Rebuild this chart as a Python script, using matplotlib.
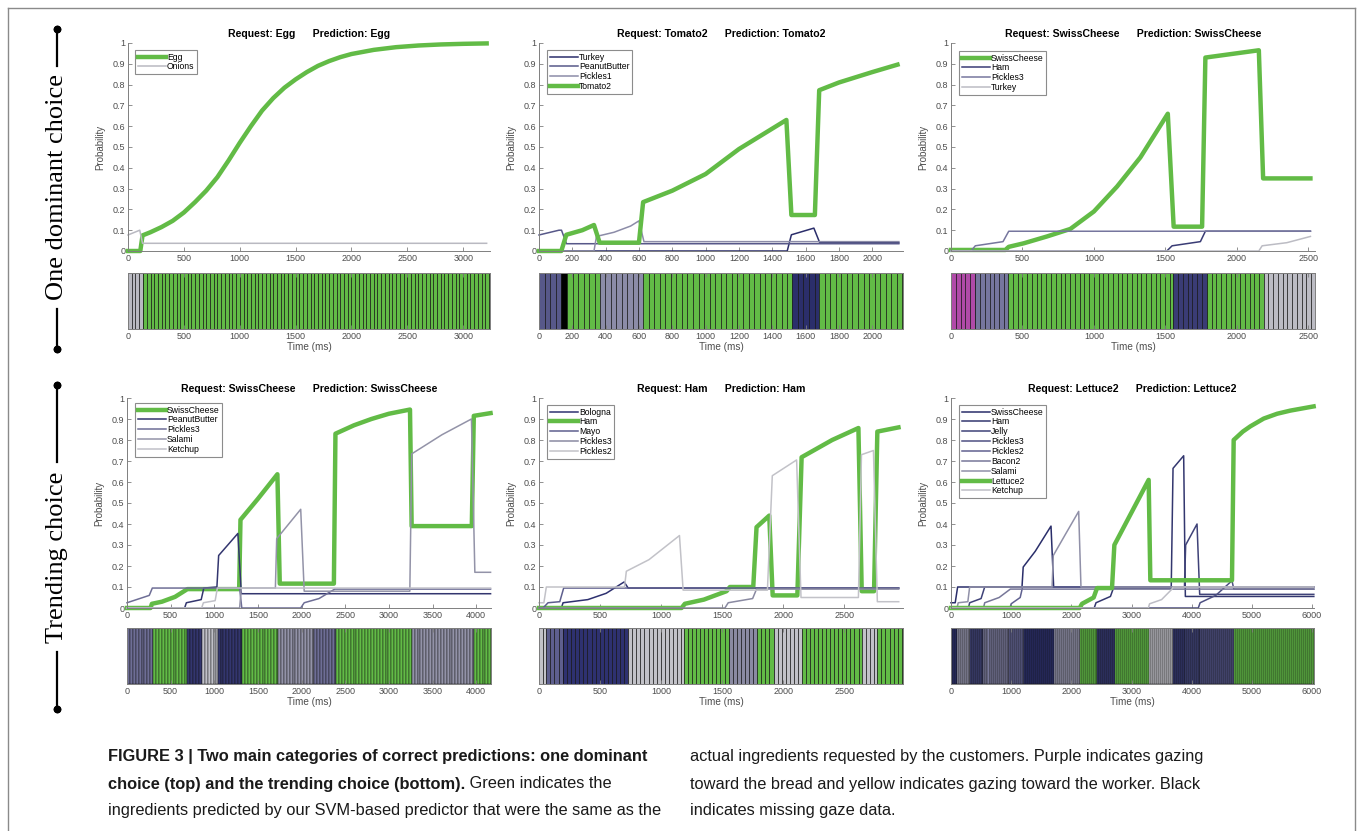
import numpy as np
import matplotlib
matplotlib.use("Agg")
import matplotlib.pyplot as plt
from matplotlib.lines import Line2D

W, H = 1358, 831
GREEN = "#62bb46"

# ---------------- data (time in ms, probability) ----------------
YTICKS = [0, 0.1, 0.2, 0.3, 0.4, 0.5, 0.6, 0.7, 0.8, 0.9, 1]
YTICK_LABELS = ["0", "0.1", "0.2", "0.3", "0.4", "0.5", "0.6", "0.7", "0.8", "0.9", "1"]
GAZE_DT = 33.3  # one gaze sample

# panel 1: Egg
P1_EGG = [(0, 0), (110, 0), (130, 0.075), (200, 0.09), (300, 0.115), (400, 0.145), (500, 0.185),
          (600, 0.235), (700, 0.29), (800, 0.355), (900, 0.435), (1000, 0.52), (1100, 0.60),
          (1200, 0.675), (1300, 0.735), (1400, 0.785), (1500, 0.825), (1600, 0.86), (1700, 0.89),
          (1800, 0.913), (1900, 0.932), (2000, 0.947), (2200, 0.967), (2400, 0.98), (2600, 0.988),
          (2800, 0.993), (3000, 0.996), (3210, 0.998)]
P1_ONIONS = [(0, 0.077), (105, 0.10), (130, 0.037), (3210, 0.037)]
P1_GAZE = [(0, 135, "Onions"), (135, 3240, "Egg")]
P1_XTICKS = [0, 500, 1000, 1500, 2000, 2500, 3000]

# panel 2: Tomato2
P2_TURKEY = [(0, 0), (1490, 0), (1515, 0.078), (1650, 0.11), (1685, 0.04), (2160, 0.04)]
P2_PEANUT = [(0, 0.077), (120, 0.10), (135, 0.10), (165, 0.035), (2160, 0.035)]
P2_PICKLES1 = [(0, 0), (330, 0), (345, 0.07), (450, 0.09), (550, 0.12), (600, 0.145),
               (630, 0.045), (2160, 0.045)]
P2_TOMATO2 = [(0, 0), (134, 0), (164, 0.078), (260, 0.10), (330, 0.125), (364, 0.04), (600, 0.04),
              (625, 0.235), (800, 0.29), (1000, 0.37), (1200, 0.49), (1485, 0.63), (1515, 0.173),
              (1656, 0.173), (1682, 0.773), (1800, 0.81), (2000, 0.86), (2152, 0.896)]
P2_GAZE = [(0, 134, "PeanutButter"), (134, 168, "missing"), (168, 364, "Tomato2"),
           (364, 625, "Pickles1"), (625, 1521, "Tomato2"), (1521, 1682, "Turkey"),
           (1682, 2182, "Tomato2")]
P2_XTICKS = [0, 200, 400, 600, 800, 1000, 1200, 1400, 1600, 1800, 2000]

# panel 3: SwissCheese (dominant)
P3_SWISS = [(0, 0.005), (380, 0.005), (404, 0.02), (509, 0.037), (672, 0.07), (835, 0.106),
            (1000, 0.19), (1162, 0.31), (1325, 0.45), (1517, 0.66), (1558, 0.117), (1757, 0.117),
            (1780, 0.93), (2154, 0.965), (2184, 0.349), (2515, 0.349)]
P3_HAM = [(0, 0), (1510, 0), (1547, 0.025), (1745, 0.045), (1780, 0.095), (2515, 0.095)]
P3_PICKLES3 = [(0, 0), (140, 0), (170, 0.025), (364, 0.045), (404, 0.095), (2515, 0.095)]
P3_TURKEY = [(0, 0), (2154, 0), (2177, 0.025), (2350, 0.04), (2515, 0.07)]
P3_GAZE = [(0, 170, "bread"), (170, 400, "Pickles3"), (400, 1556, "SwissCheese"),
           (1556, 1790, "Ham"), (1790, 2187, "SwissCheese"), (2187, 2550, "Turkey")]
P3_XTICKS = [0, 500, 1000, 1500, 2000, 2500]

# panel 4: SwissCheese (trending)
P4_SWISS = [(0, 0), (270, 0), (285, 0.02), (400, 0.03), (550, 0.053), (692, 0.09), (1285, 0.09),
            (1300, 0.42), (1500, 0.52), (1723, 0.637), (1750, 0.116), (2370, 0.116), (2388, 0.83),
            (2600, 0.87), (2800, 0.9), (3000, 0.925), (3242, 0.945), (3261, 0.39), (3950, 0.39),
            (3973, 0.915), (4165, 0.928)]
P4_PEANUT = [(0, 0), (660, 0), (680, 0.025), (850, 0.04), (880, 0.095), (1030, 0.10),
             (1050, 0.25), (1270, 0.355), (1310, 0.068), (4165, 0.068)]
P4_PICKLES3 = [(0, 0.025), (255, 0.06), (290, 0.095), (1290, 0.095), (1315, 0), (1990, 0),
               (2030, 0.025), (2200, 0.045), (2380, 0.09), (4165, 0.09)]
P4_SALAMI = [(0, 0), (1290, 0), (1310, 0.095), (1700, 0.095), (1715, 0.33), (1990, 0.47),
             (2030, 0.08), (3240, 0.08), (3262, 0.734), (3608, 0.825), (3946, 0.90), (3985, 0.17),
             (4165, 0.17)]
P4_KETCHUP = [(0, 0), (855, 0), (875, 0.025), (1010, 0.035), (1035, 0.095), (4165, 0.095)]
P4_GAZE = [(0, 300, "Pickles3"), (300, 692, "SwissCheese"), (692, 858, "PeanutButter"),
           (858, 1038, "Ketchup"), (1038, 1320, "PeanutButter"), (1320, 1730, "SwissCheese"),
           (1730, 2146, "Salami"), (2146, 2396, "Pickles3"), (2396, 3262, "SwissCheese"),
           (3262, 3973, "Salami"), (3973, 4190, "SwissCheese")]
P4_XTICKS = [0, 500, 1000, 1500, 2000, 2500, 3000, 3500, 4000]

# panel 5: Ham
P5_BOLOGNA = [(0, 0), (183, 0), (197, 0.025), (400, 0.04), (550, 0.07), (697, 0.124),
              (730, 0.095), (2945, 0.095)]
P5_HAM = [(0, 0), (1167, 0), (1194, 0.02), (1350, 0.04), (1535, 0.08), (1563, 0.1), (1754, 0.1),
          (1781, 0.385), (1885, 0.44), (1913, 0.06), (2115, 0.06), (2150, 0.718), (2400, 0.8),
          (2615, 0.857), (2642, 0.08), (2743, 0.08), (2770, 0.84), (2943, 0.86)]
P5_MAYO = [(0, 0), (33, 0), (74, 0.025), (170, 0.03), (202, 0.095), (2945, 0.095)]
P5_PICKLES3 = [(0, 0), (1522, 0), (1549, 0.025), (1749, 0.045), (1781, 0.09), (2945, 0.09)]
P5_PICKLES2 = [(0, 0.025), (40, 0.025), (60, 0.1), (700, 0.1), (715, 0.175), (900, 0.23),
               (1150, 0.345), (1180, 0.085), (1870, 0.085), (1910, 0.63), (2109, 0.705),
               (2145, 0.05), (2615, 0.05), (2640, 0.73), (2738, 0.75), (2770, 0.03), (2945, 0.03)]
P5_GAZE = [(0, 60, "Pickles2"), (60, 197, "Mayo"), (197, 730, "Bologna"), (730, 1186, "Pickles2"),
           (1186, 1555, "Ham"), (1555, 1787, "Pickles3"), (1787, 1923, "Ham"),
           (1923, 2150, "Pickles2"), (2150, 2642, "Ham"), (2642, 2770, "Pickles2"),
           (2770, 2980, "Ham")]
P5_XTICKS = [0, 500, 1000, 1500, 2000, 2500]

# panel 6: Lettuce2
P6_SWISS = [(0, 0.025), (70, 0.025), (110, 0.1), (1180, 0.1), (1200, 0.195), (1400, 0.27),
            (1662, 0.39), (1706, 0.1), (6030, 0.1)]
P6_HAM = [(0, 0), (2380, 0), (2410, 0.025), (2650, 0.055), (2700, 0.095), (3660, 0.095),
          (3690, 0.665), (3867, 0.725), (3895, 0.055), (6030, 0.055)]
P6_JELLY = [(0, 0), (290, 0), (310, 0.025), (500, 0.045), (560, 0.1), (3880, 0.1), (3900, 0.3),
            (4089, 0.4), (4133, 0.065), (6030, 0.065)]
P6_PICKLES3 = [(0, 0), (4110, 0), (4140, 0.025), (4400, 0.06), (4670, 0.13), (4700, 0.09),
               (6030, 0.09)]
P6_PICKLES2 = [(0, 0), (980, 0), (1000, 0.02), (1150, 0.05), (1190, 0.1), (6030, 0.1)]
P6_BACON2 = [(0, 0), (540, 0), (560, 0.025), (800, 0.05), (986, 0.09), (6030, 0.09)]
P6_SALAMI = [(0, 0), (100, 0), (120, 0.025), (280, 0.03), (310, 0.1), (1680, 0.1), (1700, 0.25),
             (1900, 0.35), (2122, 0.46), (2160, 0.1), (6030, 0.1)]
P6_LETTUCE2 = [(0, 0), (2139, 0), (2177, 0.02), (2371, 0.05), (2427, 0.095), (2676, 0.095),
               (2715, 0.3), (3285, 0.61), (3313, 0.132), (4670, 0.132), (4698, 0.80), (4850, 0.84),
               (4975, 0.865), (5197, 0.902), (5420, 0.925), (5640, 0.94), (6027, 0.96)]
P6_KETCHUP = [(0, 0), (3280, 0), (3300, 0.02), (3500, 0.04), (3673, 0.09), (3690, 0.1), (6030, 0.1)]
P6_GAZE = [(0, 100, "SwissCheese"), (100, 320, "Salami"), (320, 540, "Jelly"), (540, 960, "Bacon2"),
           (960, 1210, "Pickles2"), (1210, 1706, "SwissCheese"), (1706, 2150, "Salami"),
           (2150, 2427, "Lettuce2"), (2427, 2720, "Ham"), (2720, 3285, "Lettuce2"),
           (3285, 3690, "Ketchup"), (3690, 3895, "Ham"), (3895, 4144, "Jelly"),
           (4144, 4698, "Pickles3"), (4698, 6040, "Lettuce2")]
P6_XTICKS = [0, 1000, 2000, 3000, 4000, 5000, 6000]

CAPTION_LEFT = [
    ("FIGURE 3 | Two main categories of correct predictions: one dominant", ""),
    ("choice (top) and the trending choice (bottom).", " Green indicates the"),
    ("", "ingredients predicted by our SVM-based predictor that were the same as the"),
]
CAPTION_RIGHT = [
    "actual ingredients requested by the customers. Purple indicates gazing",
    "toward the bread and yellow indicates gazing toward the worker. Black",
    "indicates missing gaze data.",
]

# ---------------- styles ----------------
SPECIAL = {"missing": "#000000", "bread": "#b04aa8"}
C1 = {"Egg": GREEN, "Onions": "#b9b9c1"}
C2 = {"Turkey": "#2b2e6b", "PeanutButter": "#575889", "Pickles1": "#8c8ca8", "Tomato2": GREEN}
C3 = {"SwissCheese": GREEN, "Ham": "#3a3c75", "Pickles3": "#76769e", "Turkey": "#bcbcc4"}
C4 = {"SwissCheese": GREEN, "PeanutButter": "#33366f", "Pickles3": "#6e6e96",
      "Salami": "#9393a8", "Ketchup": "#c0c0c8"}
C5 = {"Bologna": "#2e3170", "Ham": GREEN, "Mayo": "#5e5f8e", "Pickles3": "#8a8aa2",
      "Pickles2": "#c2c2c8"}
C6 = {"SwissCheese": "#2a2e6a", "Ham": "#33376f", "Jelly": "#3f4278", "Pickles3": "#4e5082",
      "Pickles2": "#606190", "Bacon2": "#777799", "Salami": "#9090a8", "Lettuce2": GREEN,
      "Ketchup": "#bdbdc5"}

plt.rcParams["font.family"] = ["Liberation Sans", "DejaVu Sans"]
AXC = "#7f7f7f"
TXC = "#4d4d4d"

fig = plt.figure(figsize=(W / 100, H / 100), dpi=100)


def add_box(l, t, r, b):
    return fig.add_axes([l / W, 1 - b / H, (r - l) / W, (b - t) / H])


def style_ticks(ax):
    ax.tick_params(direction="in", length=3, width=0.6, color=AXC, labelcolor=TXC,
                   labelsize=6.5, pad=2)
    for s in ax.spines.values():
        s.set_color(AXC)
        s.set_linewidth(0.7)


def draw_prob(box, xmax, xticks, series, colors, title, leg_xy):
    ax = add_box(*box)
    for name, pts in series:
        tt = [p[0] for p in pts]
        pp = [p[1] for p in pts]
        c = colors[name]
        ax.plot(tt, pp, color=c, lw=3.2 if c == GREEN else 1.1, label=name, clip_on=False)
    ax.set_xlim(0, xmax)
    ax.set_ylim(0, 1)
    ax.set_xticks(xticks)
    ax.set_xticklabels([str(v) for v in xticks])
    ax.set_yticks(YTICKS)
    ax.set_yticklabels(YTICK_LABELS)
    ax.spines["top"].set_visible(False)
    ax.spines["right"].set_visible(False)
    style_ticks(ax)
    ax.set_ylabel("Probability", fontsize=7, color=TXC, labelpad=5)
    ax.set_title(title, fontsize=7.6, fontweight="bold", pad=4)
    leg = ax.legend(loc="upper left", bbox_to_anchor=(leg_xy[0] / W, 1 - leg_xy[1] / H),
                    bbox_transform=fig.transFigure, borderaxespad=0, fontsize=6.2,
                    frameon=True, fancybox=False, framealpha=1, edgecolor="#8c8c8c",
                    borderpad=0.3, labelspacing=0.1, handlelength=3.3, handletextpad=0.1)
    leg.get_frame().set_linewidth(0.8)
    return ax


def draw_gaze(box, xmax, xticks, segments, colors):
    ax = add_box(*box)
    # thinner sample edges when the samples are packed closely
    px_per_sample = GAZE_DT * (box[2] - box[0]) / xmax
    edge_lw = 0.45 if px_per_sample > 3 else 0.32
    for s, e, name in segments:
        c = SPECIAL.get(name, colors.get(name))
        t0 = np.arange(s, e, GAZE_DT)
        w = np.minimum(GAZE_DT, e - t0)
        ax.bar(t0, 1, width=w, align="edge", color=c, edgecolor="#111111", linewidth=edge_lw)
    ax.set_xlim(0, xmax)
    ax.set_ylim(0, 1)
    ax.set_yticks([])
    ax.set_xticks(xticks)
    ax.set_xticklabels([str(v) for v in xticks])
    style_ticks(ax)
    ax.tick_params(axis="x", top=True)
    ax.set_xlabel("Time (ms)", fontsize=7.2, color=TXC, labelpad=1)
    return ax


# row 1
draw_prob((128, 43, 490, 251), 3240, P1_XTICKS,
          [("Egg", P1_EGG), ("Onions", P1_ONIONS)], C1,
          "Request: Egg      Prediction: Egg", (135, 50))
draw_gaze((128, 273, 490, 329), 3240, P1_XTICKS, P1_GAZE, C1)

draw_prob((539, 43, 903, 251), 2185, P2_XTICKS,
          [("Turkey", P2_TURKEY), ("PeanutButter", P2_PEANUT), ("Pickles1", P2_PICKLES1),
           ("Tomato2", P2_TOMATO2)], C2,
          "Request: Tomato2      Prediction: Tomato2", (547, 50))
draw_gaze((539, 273, 903, 329), 2185, P2_XTICKS, P2_GAZE, C2)

draw_prob((951, 43, 1315, 251), 2547, P3_XTICKS,
          [("SwissCheese", P3_SWISS), ("Ham", P3_HAM), ("Pickles3", P3_PICKLES3),
           ("Turkey", P3_TURKEY)], C3,
          "Request: SwissCheese      Prediction: SwissCheese", (959, 51))
draw_gaze((951, 273, 1315, 329), 2547, P3_XTICKS, P3_GAZE, C3)

# row 2
draw_prob((127, 398, 491, 608), 4170, P4_XTICKS,
          [("SwissCheese", P4_SWISS), ("PeanutButter", P4_PEANUT), ("Pickles3", P4_PICKLES3),
           ("Salami", P4_SALAMI), ("Ketchup", P4_KETCHUP)], C4,
          "Request: SwissCheese      Prediction: SwissCheese", (135, 403))
draw_gaze((127, 628, 491, 684), 4170, P4_XTICKS, P4_GAZE, C4)

draw_prob((539, 398, 903, 608), 2980, P5_XTICKS,
          [("Bologna", P5_BOLOGNA), ("Ham", P5_HAM), ("Mayo", P5_MAYO),
           ("Pickles3", P5_PICKLES3), ("Pickles2", P5_PICKLES2)], C5,
          "Request: Ham      Prediction: Ham", (547, 405))
draw_gaze((539, 628, 903, 684), 2980, P5_XTICKS, P5_GAZE, C5)

draw_prob((951, 398, 1314, 608), 6033, P6_XTICKS,
          [("SwissCheese", P6_SWISS), ("Ham", P6_HAM), ("Jelly", P6_JELLY),
           ("Pickles3", P6_PICKLES3), ("Pickles2", P6_PICKLES2), ("Bacon2", P6_BACON2),
           ("Salami", P6_SALAMI), ("Lettuce2", P6_LETTUCE2), ("Ketchup", P6_KETCHUP)], C6,
          "Request: Lettuce2      Prediction: Lettuce2", (959, 405))
draw_gaze((951, 628, 1314, 684), 6033, P6_XTICKS, P6_GAZE, C6)


# ---------------- group labels on the left ----------------
def fline(x0, y0, x1, y1, **kw):
    fig.add_artist(Line2D([x0 / W, x1 / W], [1 - y0 / H, 1 - y1 / H],
                          transform=fig.transFigure, **kw))


def group(label, y_text, top_line, bottom_line):
    fig.text(57 / W, 1 - y_text / H, label, rotation=90, ha="center", va="center",
             fontsize=19, family=["Liberation Serif", "DejaVu Serif"])
    fline(57, top_line[0], 57, top_line[1], color="black", lw=1.6)
    fline(57, bottom_line[0], 57, bottom_line[1], color="black", lw=1.6)
    fline(57, top_line[0], 57, top_line[0], color="black", marker="o", ms=4.5)
    fline(57, bottom_line[1], 57, bottom_line[1], color="black", marker="o", ms=4.5)


group("One dominant choice", 187, (29, 66), (309, 349))
group("Trending choice", 557, (385, 462), (652, 709))

# outer frame
fline(8, 8, 1355, 8, color="#8a8a8a", lw=1)
fline(8, 8, 8, 831, color="#8a8a8a", lw=1)
fline(1355, 8, 1355, 831, color="#8a8a8a", lw=1)

# ---------------- caption ----------------
fig.canvas.draw()
renderer = fig.canvas.get_renderer()
cap_y = [757, 784, 811]
CAP_FS = 11.8
for (bold, normal), y in zip(CAPTION_LEFT, cap_y):
    x = 108 / W
    if bold:
        tb = fig.text(x, 1 - y / H, bold, fontsize=CAP_FS, fontweight="bold", va="center",
                      color="#1a1a1a")
        bb = tb.get_window_extent(renderer)
        x = bb.x1 / W
    if normal:
        fig.text(x, 1 - y / H, normal, fontsize=CAP_FS, va="center", color="#1a1a1a")
for line, y in zip(CAPTION_RIGHT, cap_y):
    fig.text(690 / W, 1 - y / H, line, fontsize=CAP_FS, va="center", color="#1a1a1a")

fig.savefig("out.png", dpi=100)
